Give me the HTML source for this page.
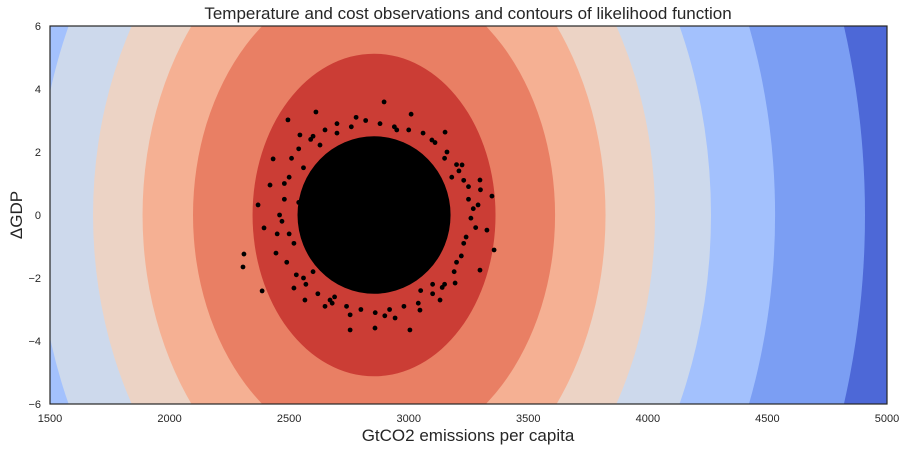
<!DOCTYPE html>
<html><head><meta charset="utf-8"><style>
html,body{margin:0;padding:0;background:#fff;overflow:hidden;width:906px;height:451px;font-family:"Liberation Sans",sans-serif;}
svg{display:block;}
svg text{font-family:"Liberation Sans",sans-serif;}
</style></head><body>
<svg id="chart" width="906" height="451" xmlns="http://www.w3.org/2000/svg">
<defs><clipPath id="plotclip"><rect x="50" y="26" width="837" height="378"/></clipPath></defs>
<text x="468" y="19" text-anchor="middle" font-size="17" fill="#262626">Temperature and cost observations and contours of likelihood function</text>
<g id="contours" clip-path="url(#plotclip)"></g>
<g id="points" clip-path="url(#plotclip)"></g>
<rect x="50" y="26" width="837" height="378" fill="none" stroke="#262626" stroke-width="1.2"/>
<g id="xticks"></g>
<g id="yticks"></g>
<text x="468" y="441" text-anchor="middle" font-size="17" fill="#262626">GtCO2 emissions per capita</text>
<text x="0" y="0" transform="translate(22,215) rotate(-90)" text-anchor="middle" font-size="17" fill="#262626">ΔGDP</text>
</svg>
<script>
const xTicks=[1500,2000,2500,3000,3500,4000,4500,5000];
const yTicks=[-6,-4,-2,0,2,4,6];
const centerX=2855, centerY=0;
const contourHalfWidths=[2053,1677,1409,1175,968,757,508];
const yPerXRatio=0.01008;
const contourColors=['#7b9ef3','#a3c1fd','#cdd9ec','#ecd3c5','#f5b093','#e97f64','#cb3d35'];
const backgroundColor='#4d68d7';
const coreRadiusX=320, coreRadiusY=2.5;
const obsX=[2897,2495,2433,2612,2830,2976,3298,3348,3357,3298,3005,2755,2859,2566,2520,2395,2370,2420,3152,3097,2545,2629,3223,3290,3327,2445,2671,3131,3194,2755,2943,3047,2311,2307,2387,2560,2600,3150,3200,3250,2500,2480,3100,2700,2950,3050,2650,3230,2540,3180,
2480,2500,2470,2520,2490,2510,2540,2560,2600,2650,2700,2760,2820,2880,2940,3000,3060,3110,3160,3200,3230,3250,3260,3240,3220,3190,3150,3100,3040,2980,2920,2860,2800,2740,2680,2620,2570,2530,2460,3270,3280,2780,2900,3010,2690,2590,3140,3210,2450,3300];
const obsY=[3.59,3.02,1.78,3.27,2.35,2.06,1.11,0.60,-1.11,-1.75,-3.65,-3.65,-3.59,-2.70,-2.32,-0.41,0.32,0.95,2.63,2.38,2.54,2.22,1.59,0.32,-0.48,-1.21,-2.70,-2.70,-2.16,-3.17,-3.27,-3.02,-1.24,-1.65,-2.41,1.5,-1.8,1.8,-1.5,0.9,-0.6,1.0,-2.2,2.6,2.7,-2.4,-2.9,-0.9,0.4,1.2,
0.5,1.2,-0.2,-0.9,-1.5,1.8,2.1,-2.0,2.5,2.7,2.9,2.8,3.0,2.9,2.8,2.7,2.6,2.3,2.0,1.6,1.1,0.5,-0.1,-0.7,-1.3,-1.8,-2.2,-2.5,-2.8,-2.9,-3.0,-3.1,-3.0,-2.9,-2.8,-2.5,-2.2,-1.9,0.0,0.2,-0.4,3.1,-3.2,3.2,-2.6,2.4,-2.3,1.4,-0.6,0.8];
const sx=v=>50+(v-1500)*837/3500;
const sy=v=>215-v*31.5;
const NS='http://www.w3.org/2000/svg';
const cg=document.getElementById('contours');
let bg=document.createElementNS(NS,'rect');
bg.setAttribute('x',50);bg.setAttribute('y',26);bg.setAttribute('width',837);bg.setAttribute('height',378);bg.setAttribute('fill',backgroundColor);


cg.appendChild(bg);
contourHalfWidths.forEach((h,i)=>{
 const e=document.createElementNS(NS,'ellipse');
 e.setAttribute('cx',sx(centerX));e.setAttribute('cy',sy(centerY));
 e.setAttribute('rx',sx(centerX+h)-sx(centerX));
 e.setAttribute('ry',sy(centerY)-sy(centerY+h*yPerXRatio));
 e.setAttribute('fill',contourColors[i]);
 
 
 cg.appendChild(e);
});
const pg=document.getElementById('points');
const core=document.createElementNS(NS,'ellipse');
core.setAttribute('cx',sx(centerX));core.setAttribute('cy',sy(centerY));
core.setAttribute('rx',sx(centerX+coreRadiusX)-sx(centerX));core.setAttribute('ry',sy(0)-sy(coreRadiusY));
core.setAttribute('fill','#000');


pg.appendChild(core);
obsX.forEach((x,i)=>{
 const c=document.createElementNS(NS,'circle');
 c.setAttribute('cx',sx(x));c.setAttribute('cy',sy(obsY[i]));c.setAttribute('r',2.4);c.setAttribute('fill','#000');
 
 
 pg.appendChild(c);
});
const xg=document.getElementById('xticks');
xTicks.forEach(t=>{
 const tx=document.createElementNS(NS,'text');
 tx.setAttribute('x',sx(t));tx.setAttribute('y',422);tx.setAttribute('text-anchor','middle');tx.setAttribute('font-size','11');tx.setAttribute('fill','#262626');
 tx.textContent=t;
 
 
 xg.appendChild(tx);
});
const yg=document.getElementById('yticks');
yTicks.forEach(t=>{
 const tx=document.createElementNS(NS,'text');
 tx.setAttribute('x',41);tx.setAttribute('y',sy(t)+4);tx.setAttribute('text-anchor','end');tx.setAttribute('font-size','11');tx.setAttribute('fill','#262626');
 tx.textContent=(t<0?'\u2212'+(-t):t);
 
 
 yg.appendChild(tx);
});
</script>
</body></html>
